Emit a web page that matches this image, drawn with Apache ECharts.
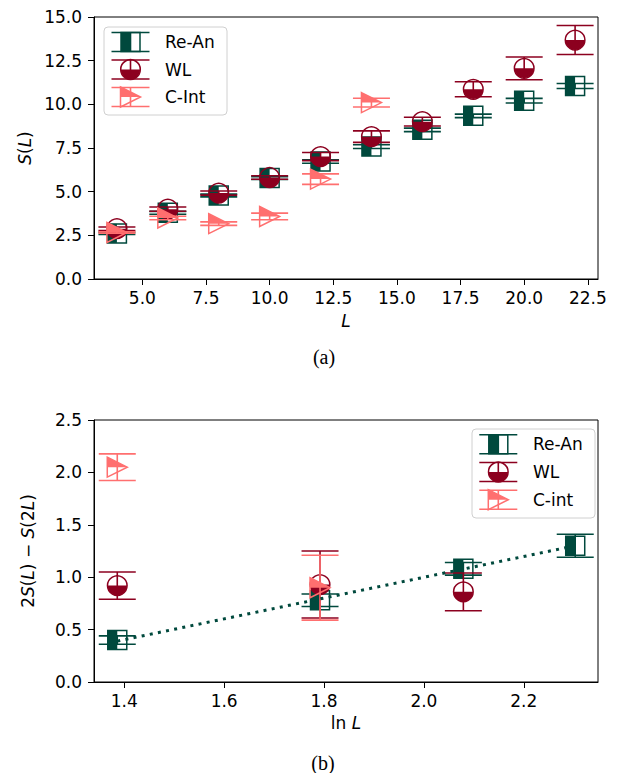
<!DOCTYPE html>
<html><head><meta charset="utf-8">
<script src="https://cdn.jsdelivr.net/npm/echarts@6/dist/echarts.min.js"></script>
<style>html,body{margin:0;padding:0;background:#fff}#c{width:628px;height:773px}</style>
</head><body><div id="c"></div>
<script>
// ---------- data (panel a) ----------
const L_top = [4, 6, 8, 10, 12, 14, 16, 18, 20, 22];
const reAnTop = [2.61, 3.79, 4.78, 5.78, 6.73, 7.58, 8.54, 9.34, 10.21, 11.05];
const reAnTopErr = [0.06, 0.08, 0.08, 0.08, 0.10, 0.11, 0.10, 0.10, 0.13, 0.14];
const wlTop = [2.88, 4.00, 4.92, 5.81, 7.01, 8.15, 9.01, 10.86, 12.06, 13.68];
const wlTopErr = [0.10, 0.12, 0.12, 0.10, 0.23, 0.33, 0.25, 0.43, 0.65, 0.83];
const L_cint = [4, 6, 8, 10, 12, 14];
const cIntTop = [2.66, 3.49, 3.17, 3.58, 5.72, 10.10];
const cIntTopErr = [0.04, 0.10, 0.10, 0.19, 0.30, 0.25];
const topXTicks = [5, 7.5, 10, 12.5, 15, 17.5, 20, 22.5];
// ---------- data (panel b) ----------
const lnL = [1.386, 1.792, 2.079, 2.303];
const reAnBot = [0.40, 0.78, 1.08, 1.30];
const reAnBotErr = [0.04, 0.06, 0.06, 0.11];
const lnL_wl = [1.386, 1.792, 2.079];
const wlBot = [0.92, 0.93, 0.86];
const wlBotErr = [0.13, 0.32, 0.18];
const lnL_ci = [1.386, 1.792];
const cIntBot = [2.05, 0.90];
const cIntBotErr = [0.127, 0.31];
const fitX = [1.386, 2.303];
const fitY = [0.39, 1.30];
const botXTicks = [1.4, 1.6, 1.8, 2.0, 2.2];

const GREEN = '#00493D', RED = '#8C001F', PINK = '#FF6F6F';
const FONT = 'DejaVu Sans';
const FS = 17;

function glyph(kind, cx, cy, yTop, yBot, color, capW) {
  const ch = [];
  const lw = 1.6;
  ch.push({type:'line', shape:{x1:cx, y1:yTop, x2:cx, y2:yBot}, style:{stroke:color, lineWidth:lw}});
  ch.push({type:'line', shape:{x1:cx-capW/2, y1:yTop, x2:cx+capW/2, y2:yTop}, style:{stroke:color, lineWidth:lw}});
  ch.push({type:'line', shape:{x1:cx-capW/2, y1:yBot, x2:cx+capW/2, y2:yBot}, style:{stroke:color, lineWidth:lw}});
  const s = 19;
  if (kind === 'square') {
    ch.push({type:'rect', shape:{x:cx-s/2, y:cy-s/2, width:s/2, height:s}, style:{fill:color}});
    ch.push({type:'rect', shape:{x:cx-s/2, y:cy-s/2, width:s, height:s}, style:{fill:'none', stroke:color, lineWidth:1.5}});
  } else if (kind === 'circle') {
    ch.push({type:'sector', shape:{cx:cx, cy:cy, r:s/2+0.3, r0:0, startAngle:0, endAngle:Math.PI, clockwise:true}, style:{fill:color}});
    ch.push({type:'circle', shape:{cx:cx, cy:cy, r:s/2+0.3}, style:{fill:'none', stroke:color, lineWidth:1.5}});
  } else {
    const h = 20;
    ch.push({type:'polygon', shape:{points:[[cx-h/2, cy-h/2], [cx+h/2, cy], [cx-h/2, cy]]}, style:{fill:color}});
    ch.push({type:'polygon', shape:{points:[[cx-h/2, cy-h/2], [cx+h/2, cy], [cx-h/2, cy+h/2]]}, style:{fill:'none', stroke:color, lineWidth:1.5}});
  }
  return ch;
}

function mkSeries(name, kind, color, xs, ys, es, gi) {
  return {
    type:'custom', name:name, xAxisIndex:gi, yAxisIndex:gi,
    data: xs.map((x, i) => [x, ys[i], es[i]]),
    encode:{x:0, y:1}, clip:false,
    renderItem: function (params, api) {
      const p = api.coord([api.value(0), api.value(1)]);
      const t = api.coord([api.value(0), api.value(1) + api.value(2)]);
      const b = api.coord([api.value(0), api.value(1) - api.value(2)]);
      return {type:'group', children: glyph(kind, p[0], p[1], t[1], b[1], color, 37)};
    }
  };
}

function legendGroup(x, y, w, h, hx, tx, rows) {
  const children = [{type:'rect', shape:{x:x, y:y, width:w, height:h, r:4}, style:{fill:'rgba(255,255,255,0.8)', stroke:'#d0d0d0', lineWidth:1}}];
  rows.forEach(r => {
    glyph(r.kind, hx, r.y, r.y-9.5, r.y+9.5, r.color, 38).forEach(e => children.push(e));
    children.push({type:'text', style:{text:r.label, x:tx, y:r.y, fill:'#000', fontSize:FS, fontFamily:FONT, verticalAlign:'middle', align:'left'}});
  });
  return {type:'group', z:100, children:children};
}

const axisCommon = {
  axisLine:{show:true, onZero:false, lineStyle:{color:'#000', width:1}},
  axisTick:{show:true, inside:false, length:6, lineStyle:{color:'#000', width:1}},
  splitLine:{show:false},
};
const xLabelStyle = {color:'#000', fontSize:FS, fontFamily:FONT, margin:10};
const yLabelStyle = {color:'#000', fontSize:FS, fontFamily:FONT, margin:12};
const rich = {i:{fontStyle:'italic', fontSize:FS, fontFamily:FONT, color:'#000'}, n:{fontSize:FS, fontFamily:FONT, color:'#000'}};

const chart = echarts.init(document.getElementById('c'), null, {renderer:'svg'});
chart.setOption({
  animation:false,
  backgroundColor:'#fff',
  grid:[
    {left:94, top:17, width:504, height:262, show:true, borderColor:'#000', borderWidth:1, backgroundColor:'transparent'},
    {left:94, top:420, width:504, height:262, show:true, borderColor:'#000', borderWidth:1, backgroundColor:'transparent'}
  ],
  xAxis:[
    Object.assign({type:'value', gridIndex:0, min:3.1, max:22.9,
      axisLabel:Object.assign({customValues:topXTicks, formatter:v => v.toFixed(1)}, xLabelStyle),
      name:'{i|L}', nameLocation:'middle', nameGap:33, nameTextStyle:{rich:rich}}, axisCommon,
      {axisTick:{show:true, length:6, customValues:topXTicks, lineStyle:{color:'#000'}}}),
    Object.assign({type:'value', gridIndex:1, min:1.3394, max:2.3486,
      axisLabel:Object.assign({customValues:botXTicks, formatter:v => v.toFixed(1)}, xLabelStyle),
      name:'{n|ln }{i|L}', nameLocation:'middle', nameGap:32, nameTextStyle:{rich:rich}}, axisCommon,
      {axisTick:{show:true, length:6, customValues:botXTicks, lineStyle:{color:'#000'}}})
  ],
  yAxis:[
    Object.assign({type:'value', gridIndex:0, min:0, max:15, interval:2.5,
      axisLabel:Object.assign({formatter:v => v.toFixed(1)}, yLabelStyle),
      name:'{i|S}{n|(}{i|L}{n|)}', nameLocation:'middle', nameGap:57, nameTextStyle:{rich:rich}}, axisCommon),
    Object.assign({type:'value', gridIndex:1, min:0, max:2.5, interval:0.5,
      axisLabel:Object.assign({formatter:v => v.toFixed(1)}, yLabelStyle),
      name:'{n|2}{i|S}{n|(}{i|L}{n|) − }{i|S}{n|(2}{i|L}{n|)}', nameLocation:'middle', nameGap:58, nameTextStyle:{rich:rich}}, axisCommon)
  ],
  series:[
    mkSeries('Re-An', 'square', GREEN, L_top, reAnTop, reAnTopErr, 0),
    mkSeries('WL', 'circle', RED, L_top, wlTop, wlTopErr, 0),
    mkSeries('C-Int', 'tri', PINK, L_cint, cIntTop, cIntTopErr, 0),
    {type:'line', xAxisIndex:1, yAxisIndex:1, data:fitX.map((x, i) => [x, fitY[i]]), symbol:'none',
      lineStyle:{color:GREEN, width:3, type:[3, 5.3], cap:'butt'}, silent:true},
    mkSeries('Re-An', 'square', GREEN, lnL, reAnBot, reAnBotErr, 1),
    mkSeries('WL', 'circle', RED, lnL_wl, wlBot, wlBotErr, 1),
    mkSeries('C-int', 'tri', PINK, lnL_ci, cIntBot, cIntBotErr, 1)
  ],
  graphic:[
    legendGroup(104, 27, 123, 88, 130.5, 165, [
      {kind:'square', color:GREEN, label:'Re-An', y:42},
      {kind:'circle', color:RED, label:'WL', y:69.5},
      {kind:'tri', color:PINK, label:'C-Int', y:97}
    ]),
    legendGroup(472, 429, 123, 89, 498.3, 533, [
      {kind:'square', color:GREEN, label:'Re-An', y:444.3},
      {kind:'circle', color:RED, label:'WL', y:472},
      {kind:'tri', color:PINK, label:'C-int', y:499.7}
    ]),
    {type:'text', style:{text:'(a)', x:324, y:357, fill:'#000', fontSize:20, fontFamily:'Liberation Serif', align:'center', verticalAlign:'middle'}},
    {type:'text', style:{text:'(b)', x:323, y:763, fill:'#000', fontSize:20, fontFamily:'Liberation Serif', align:'center', verticalAlign:'middle'}}
  ]
});
</script></body></html>
